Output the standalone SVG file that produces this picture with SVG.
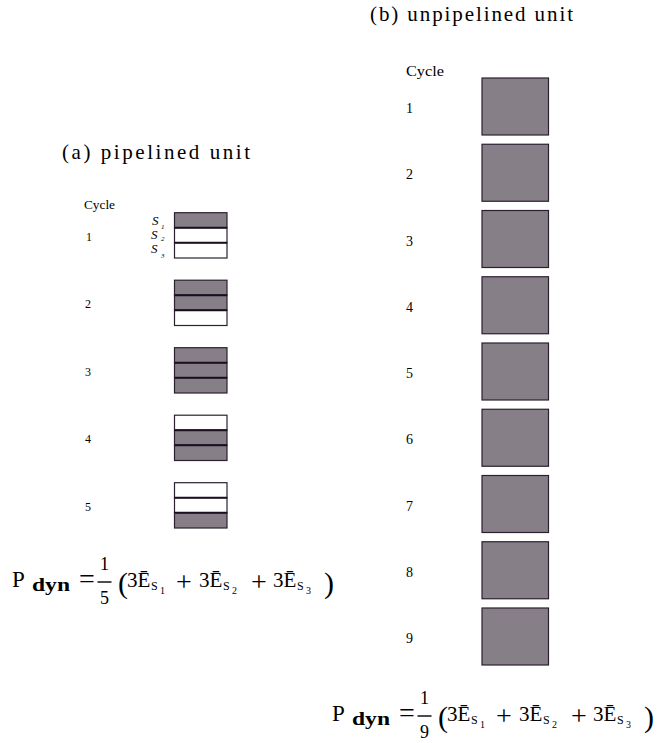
<svg xmlns="http://www.w3.org/2000/svg" width="662" height="743" viewBox="0 0 662 743">
<style>
.bg{fill:#ffffff}
.f{fill:#877f88;stroke:#2a2030;stroke-width:1.2}
.e{fill:#ffffff;stroke:#2a2030;stroke-width:1.2}
.sep{stroke:#1a1020;stroke-width:2}
text{font-family:"Liberation Serif","DejaVu Serif",serif;fill:#000}
.t{font-size:21px}
.la{font-size:12px}
.lb{font-size:14px}
.s{font-size:13px;font-style:italic}
.ss{font-size:7px;font-style:italic}
.m{font-size:23px}
.me{font-size:21px}
.op{font-size:28px}
.mb{font-size:19px;font-weight:bold}
.fr{font-size:18px}
.sub{font-size:12px}
.sub2{font-size:10px}
.par{font-size:30px}
.bar{stroke:#000;stroke-width:1.4}
</style>
<rect class="bg" x="0" y="0" width="662" height="743"/>
<g id="title-a"><text class="t" x="62" y="159" textLength="188" lengthAdjust="spacing">(a) pipelined unit</text></g>
<g id="title-b"><text class="t" x="370" y="21" textLength="203" lengthAdjust="spacing">(b) unpipelined unit</text></g>
<g id="labels-a">
<text class="la" x="84" y="209" textLength="31" lengthAdjust="spacingAndGlyphs">Cycle</text>
<text class="la" x="86" y="241">1</text>
<text class="la" x="85" y="308">2</text>
<text class="la" x="85" y="376">3</text>
<text class="la" x="85" y="443">4</text>
<text class="la" x="85" y="511">5</text>
</g>
<g id="stage-labels">
<text class="s" x="152" y="225">S</text><text class="ss" x="161" y="229">1</text>
<text class="s" x="151" y="239">S</text><text class="ss" x="161" y="241">2</text>
<text class="s" x="151" y="253">S</text><text class="ss" x="161" y="258">3</text>
</g>
<g id="cycle-a1">
<rect class="f" x="174.5" y="212.7" width="52.5" height="15"/>
<rect class="e" x="174.5" y="227.7" width="52.5" height="15"/>
<rect class="e" x="174.5" y="242.7" width="52.5" height="15.3"/>
<line class="sep" x1="174.5" y1="227.7" x2="227" y2="227.7"/>
<line class="sep" x1="174.5" y1="242.7" x2="227" y2="242.7"/>
</g>
<g id="cycle-a2">
<rect class="f" x="174.5" y="280.2" width="52.5" height="15"/>
<rect class="f" x="174.5" y="295.2" width="52.5" height="15"/>
<rect class="e" x="174.5" y="310.2" width="52.5" height="15.3"/>
<line class="sep" x1="174.5" y1="295.2" x2="227" y2="295.2"/>
<line class="sep" x1="174.5" y1="310.2" x2="227" y2="310.2"/>
</g>
<g id="cycle-a3">
<rect class="f" x="174.5" y="347.7" width="52.5" height="15"/>
<rect class="f" x="174.5" y="362.7" width="52.5" height="15"/>
<rect class="f" x="174.5" y="377.7" width="52.5" height="15.3"/>
<line class="sep" x1="174.5" y1="362.7" x2="227" y2="362.7"/>
<line class="sep" x1="174.5" y1="377.7" x2="227" y2="377.7"/>
</g>
<g id="cycle-a4">
<rect class="e" x="174.5" y="415.2" width="52.5" height="15"/>
<rect class="f" x="174.5" y="430.2" width="52.5" height="15"/>
<rect class="f" x="174.5" y="445.2" width="52.5" height="15.3"/>
<line class="sep" x1="174.5" y1="430.2" x2="227" y2="430.2"/>
<line class="sep" x1="174.5" y1="445.2" x2="227" y2="445.2"/>
</g>
<g id="cycle-a5">
<rect class="e" x="174.5" y="482.7" width="52.5" height="15"/>
<rect class="e" x="174.5" y="497.7" width="52.5" height="15"/>
<rect class="f" x="174.5" y="512.7" width="52.5" height="15.3"/>
<line class="sep" x1="174.5" y1="497.7" x2="227" y2="497.7"/>
<line class="sep" x1="174.5" y1="512.7" x2="227" y2="512.7"/>
</g>
<g id="labels-b">
<text class="lb" x="406" y="76" textLength="38" lengthAdjust="spacingAndGlyphs">Cycle</text>
<text class="lb" x="406" y="113">1</text>
<text class="lb" x="406" y="179">2</text>
<text class="lb" x="406" y="246">3</text>
<text class="lb" x="406" y="312">4</text>
<text class="lb" x="406" y="378">5</text>
<text class="lb" x="406" y="444">6</text>
<text class="lb" x="406" y="511">7</text>
<text class="lb" x="406" y="577">8</text>
<text class="lb" x="406" y="643">9</text>
</g>
<g id="cycle-b1"><rect class="f" x="482" y="78" width="66.5" height="57"/></g>
<g id="cycle-b2"><rect class="f" x="482" y="144.25" width="66.5" height="57"/></g>
<g id="cycle-b3"><rect class="f" x="482" y="210.5" width="66.5" height="57"/></g>
<g id="cycle-b4"><rect class="f" x="482" y="276.75" width="66.5" height="57"/></g>
<g id="cycle-b5"><rect class="f" x="482" y="343" width="66.5" height="57"/></g>
<g id="cycle-b6"><rect class="f" x="482" y="409.25" width="66.5" height="57"/></g>
<g id="cycle-b7"><rect class="f" x="482" y="475.5" width="66.5" height="57"/></g>
<g id="cycle-b8"><rect class="f" x="482" y="541.75" width="66.5" height="57"/></g>
<g id="cycle-b9"><rect class="f" x="482" y="608" width="66.5" height="57"/></g>
<g id="formula-a">
<text class="m" x="12" y="587">P</text>
<text class="mb" x="32" y="591" textLength="38" lengthAdjust="spacingAndGlyphs">dyn</text>
<text class="op" x="79" y="588">=</text>
<text class="fr" x="104.5" y="570" text-anchor="middle">1</text>
<line class="bar" x1="97.5" y1="582" x2="111.5" y2="582"/>
<text class="fr" x="104.5" y="604" text-anchor="middle">5</text>
<text class="par" x="118" y="593">(</text>
<text class="me" x="127" y="587">3Ē</text>
<text class="sub" x="151" y="590">S</text>
<text class="sub2" x="160" y="594">1</text>
<text class="op" x="176" y="591">+</text>
<text class="me" x="199" y="587">3Ē</text>
<text class="sub" x="223" y="590">S</text>
<text class="sub2" x="232" y="594">2</text>
<text class="op" x="251" y="591">+</text>
<text class="me" x="273" y="587">3Ē</text>
<text class="sub" x="297" y="590">S</text>
<text class="sub2" x="306" y="594">3</text>
<text class="par" x="324" y="593">)</text>
</g>
<g id="formula-b" transform="translate(320,134)">
<text class="m" x="12" y="587">P</text>
<text class="mb" x="32" y="591" textLength="38" lengthAdjust="spacingAndGlyphs">dyn</text>
<text class="op" x="79" y="588">=</text>
<text class="fr" x="104.5" y="570" text-anchor="middle">1</text>
<line class="bar" x1="97.5" y1="582" x2="111.5" y2="582"/>
<text class="fr" x="104.5" y="604" text-anchor="middle">9</text>
<text class="par" x="118" y="593">(</text>
<text class="me" x="127" y="587">3Ē</text>
<text class="sub" x="151" y="590">S</text>
<text class="sub2" x="160" y="594">1</text>
<text class="op" x="176" y="591">+</text>
<text class="me" x="199" y="587">3Ē</text>
<text class="sub" x="223" y="590">S</text>
<text class="sub2" x="232" y="594">2</text>
<text class="op" x="251" y="591">+</text>
<text class="me" x="273" y="587">3Ē</text>
<text class="sub" x="297" y="590">S</text>
<text class="sub2" x="306" y="594">3</text>
<text class="par" x="324" y="593">)</text>
</g>
</svg>
